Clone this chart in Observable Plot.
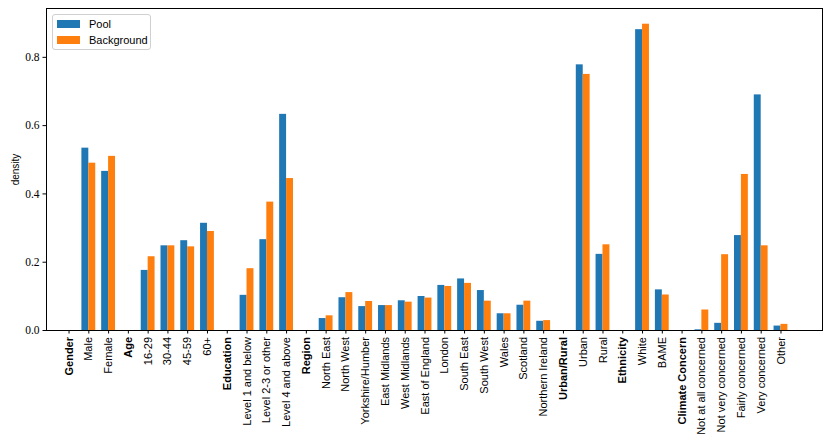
<!DOCTYPE html>
<html>
<head>
<meta charset="utf-8">
<script src="https://cdn.jsdelivr.net/npm/d3@7"></script>
<script src="https://cdn.jsdelivr.net/npm/@observablehq/plot@0.6"></script>
<style>
  body { margin: 0; background: #fff; }
  #wrap { position: relative; width: 830px; height: 445px; }
  #legend { position: absolute; left: 52px; top: 14px; width: 97px; height: 34px;
    border: 1px solid #d0d0d0; border-radius: 3px; background: rgba(255,255,255,0.8);
    font-family: "Liberation Sans", Arial, sans-serif; font-size: 11px; color: #000; }
  .row { position: absolute; left: 4px; height: 10px; display: flex; align-items: center; }
  .sw { width: 23px; height: 8px; margin-right: 9px; }
</style>
</head>
<body>
<div id="wrap"></div>
<script>
const labels = ["Gender","Male","Female","Age","16-29","30-44","45-59","60+",
  "Education","Level 1 and below","Level 2-3 or other","Level 4 and above",
  "Region","North East","North West","Yorkshire/Humber","East Midlands","West Midlands",
  "East of England","London","South East","South West","Wales","Scotland","Northern Ireland",
  "Urban/Rural","Urban","Rural","Ethnicity","White","BAME",
  "Climate Concern","Not at all concerned","Not very concerned","Fairly concerned","Very concerned","Other"];
const headers = ["Gender","Age","Education","Region","Urban/Rural","Ethnicity","Climate Concern"];
const pool = [null,0.534,0.466,null,0.176,0.248,0.263,0.314,
  null,0.103,0.266,0.633,
  null,0.035,0.096,0.070,0.073,0.087,0.0996,0.132,0.151,0.117,0.049,0.074,0.027,
  null,0.778,0.223,null,0.881,0.119,
  null,0.002,0.021,0.278,0.690,0.013];
const background = [null,0.490,0.510,null,0.216,0.248,0.245,0.290,
  null,0.181,0.376,0.445,
  null,0.043,0.111,0.085,0.073,0.083,0.095,0.129,0.138,0.086,0.049,0.086,0.029,
  null,0.750,0.251,null,0.897,0.104,
  null,0.060,0.222,0.457,0.248,0.018];
const series = ["Pool","Background"];
const colors = ["#1f77b4","#ff7f0e"];
const yTicks = [0,0.2,0.4,0.6,0.8];

const barW = 0.35;
const rows = [];
labels.forEach((lab, i) => {
  if (pool[i] != null) rows.push({i, series: "Pool", v: pool[i]});
  if (background[i] != null) rows.push({i, series: "Background", v: background[i]});
});
const normalIdx = labels.map((l,i)=>i).filter(i => !headers.includes(labels[i]));
const headerIdx = labels.map((l,i)=>i).filter(i => headers.includes(labels[i]));

const chart = Plot.plot({
  width: 830, height: 445,
  marginLeft: 46, marginRight: 8, marginTop: 8, marginBottom: 115,
  style: {fontFamily: "Liberation Sans, Arial, sans-serif", fontSize: "10px", background: "#fff"},
  x: {domain: [-1.14, 38.1], label: null},
  y: {domain: [0, 0.943], label: null},
  color: {domain: series, range: colors},
  marks: [
    Plot.rectY(rows, {
      x1: d => d.series === "Pool" ? d.i - barW : d.i,
      x2: d => d.series === "Pool" ? d.i : d.i + barW,
      y: "v", fill: "series", inset: 0
    }),
    Plot.frame({stroke: "black", strokeWidth: 1}),
    Plot.axisY({ticks: yTicks, tickFormat: d3.format(".1f"), tickSize: 3.5, tickPadding: 3.5,
      fontSize: 10,
      label: "density", labelAnchor: "center", labelArrow: "none", labelOffset: 34.5}),
    Plot.axisX({ticks: normalIdx, tickFormat: i => labels[i], tickRotate: -90, tickSize: 3.5, tickPadding: 3,
      fontSize: 11, label: null}),
    Plot.axisX({ticks: headerIdx, tickFormat: i => labels[i], tickRotate: -90, tickSize: 3.5, tickPadding: 3,
      fontSize: 11, fontWeight: "bold", label: null})
  ]
});
const wrap = document.getElementById("wrap");
wrap.appendChild(chart);
// serif digits on the y tick labels (as in the reference)
d3.select(chart).selectAll("g").filter(function() {
  const a = this.getAttribute("aria-label") || "";
  return a.startsWith("y-axis tick label");
}).selectAll("text")
  .style("font-family", "'Liberation Serif', 'Times New Roman', serif")
  .style("font-size", "11.5px");
const legend = document.createElement("div");
legend.id = "legend";
series.forEach((s, k) => {
  const r = document.createElement("div");
  r.className = "row";
  r.style.top = (4 + k * 16) + "px";
  r.innerHTML = `<span class="sw" style="background:${colors[k]}"></span><span>${s}</span>`;
  legend.appendChild(r);
});
wrap.appendChild(legend);
</script>
</body>
</html>
